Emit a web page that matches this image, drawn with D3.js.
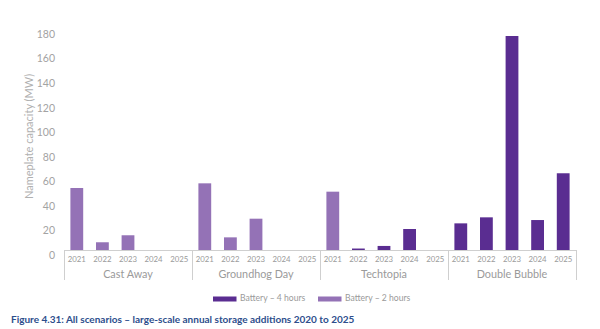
<!DOCTYPE html>
<html>
<head>
<meta charset="utf-8">
<script src="https://cdn.jsdelivr.net/npm/d3@7"></script>
<style>
  html, body { margin: 0; padding: 0; background: #fff; }
  svg { display: block; font-family: Lato, "Open Sans", sans-serif; }
</style>
</head>
<body>
<svg id="chart" width="600" height="329"></svg>
<script>
const scenarios = ["Cast Away", "Groundhog Day", "Techtopia", "Double Bubble"];
const years = ["2021", "2022", "2023", "2024", "2025"];
const seriesNames = ["Battery – 4 hours", "Battery – 2 hours"];
// values per scenario, per year
const battery4h = [
  [0, 0, 0, 0, 0],
  [0, 0, 0, 0, 0],
  [0, 1.2, 3.3, 17.1, 0],
  [21.7, 26.6, 174.3, 24.4, 62.5]
];
const battery2h = [
  [50.5, 6.3, 12.0, 0, 0],
  [54.3, 10.3, 25.5, 0, 0],
  [47.5, 0, 0, 0, 0],
  [0, 0, 0, 0, 0]
];
const yTicks = [0, 20, 40, 60, 80, 100, 120, 140, 160, 180];
const titleText = "Figure 4.31: All scenarios – large-scale annual storage additions 2020 to 2025";
const yLabel = "Nameplate capacity (MW)";

const colors = ["#5a2d91", "#9472b6"];

const svg = d3.select("#chart");
const plotLeft = 64, plotRight = 576, plotTop = 29, plotBottom = 250;

const x0 = d3.scaleBand().domain(scenarios).range([plotLeft, plotRight]).padding(0);
const x1 = d3.scaleBand().domain(years).range([0, x0.bandwidth()]).paddingInner(0.5).paddingOuter(0.25);
const y = d3.scaleLinear().domain([0, 180]).range([plotBottom, plotTop]);

// flat rows for stacking
const rows = [];
scenarios.forEach((s, i) => years.forEach((yr, j) => {
  rows.push({ scenario: s, year: yr, "Battery – 4 hours": battery4h[i][j], "Battery – 2 hours": battery2h[i][j] });
}));
const stacked = d3.stack().keys(seriesNames)(rows);

// y axis
const yAxis = svg.append("g")
  .attr("transform", `translate(${plotLeft},0)`)
  .call(d3.axisLeft(y).tickValues(yTicks).tickSize(0).tickPadding(9));
yAxis.select(".domain").remove();
yAxis.selectAll("text")
  .attr("dy", "0.32em")
  .attr("transform", "translate(0,5)")
  .style("font-size", "10.5px")
  .style("fill", "#a3a3a3")
  .style("font-family", "Lato, sans-serif");

svg.append("text")
  .attr("transform", `translate(30,${(plotTop + plotBottom) / 2 - 3}) rotate(-90)`)
  .attr("text-anchor", "middle")
  .attr("dominant-baseline", "middle")
  .style("font-size", "11px")
  .style("fill", "#b0b0b0")
  .text(yLabel);

// bars
svg.append("g").selectAll("g")
  .data(stacked)
  .join("g")
  .attr("fill", (d, i) => colors[i])
  .selectAll("rect")
  .data(d => d.filter(p => p[1] - p[0] > 0))
  .join("rect")
  .attr("x", d => x0(d.data.scenario) + x1(d.data.year))
  .attr("width", x1.bandwidth())
  .attr("y", d => y(d[1]))
  .attr("height", d => y(d[0]) - y(d[1]));

// x axis line
svg.append("line")
  .attr("x1", plotLeft).attr("x2", plotRight)
  .attr("y1", plotBottom + 0.5).attr("y2", plotBottom + 0.5)
  .attr("stroke", "#cfcfcf").attr("stroke-width", 1);

// separators
const seps = scenarios.map(s => x0(s)).concat([plotRight]);
svg.append("g").selectAll("line")
  .data(seps)
  .join("line")
  .attr("x1", d => Math.round(d) + 0.5).attr("x2", d => Math.round(d) + 0.5)
  .attr("y1", plotBottom).attr("y2", 280)
  .attr("stroke", "#cfcfcf").attr("stroke-width", 1);

// year labels
const yearG = svg.append("g");
scenarios.forEach(s => {
  yearG.append("g").selectAll("text")
    .data(years)
    .join("text")
    .attr("x", d => x0(s) + x1(d) + x1.bandwidth() / 2)
    .attr("y", 260)
    .attr("text-anchor", "middle")
    .attr("dominant-baseline", "middle")
    .style("font-size", "7.8px")
    .style("fill", "#9a9a9a")
    .text(d => d);
});

// scenario labels
svg.append("g").selectAll("text")
  .data(scenarios)
  .join("text")
  .attr("x", d => x0(d) + x0.bandwidth() / 2)
  .attr("y", 275)
  .attr("text-anchor", "middle")
  .attr("dominant-baseline", "middle")
  .style("font-size", "10.8px")
  .style("fill", "#9a9a9a")
  .text(d => d);

// legend
const legendX = [213, 318];
const lg = svg.append("g");
seriesNames.forEach((n, i) => {
  lg.append("rect")
    .attr("x", legendX[i]).attr("y", 296.5)
    .attr("width", 23.5).attr("height", 5)
    .attr("fill", colors[i]);
  lg.append("text")
    .attr("x", legendX[i] + 27).attr("y", 299)
    .attr("dominant-baseline", "middle")
    .style("font-size", "8.6px")
    .style("fill", "#9a9a9a")
    .text(n);
});

// title
svg.append("text")
  .attr("x", 11).attr("y", 320)
  .attr("dominant-baseline", "middle")
  .style("font-size", "10px")
  .style("font-weight", "bold")
  .style("fill", "#2d4e8c")
  .text(titleText);
</script>
</body>
</html>
